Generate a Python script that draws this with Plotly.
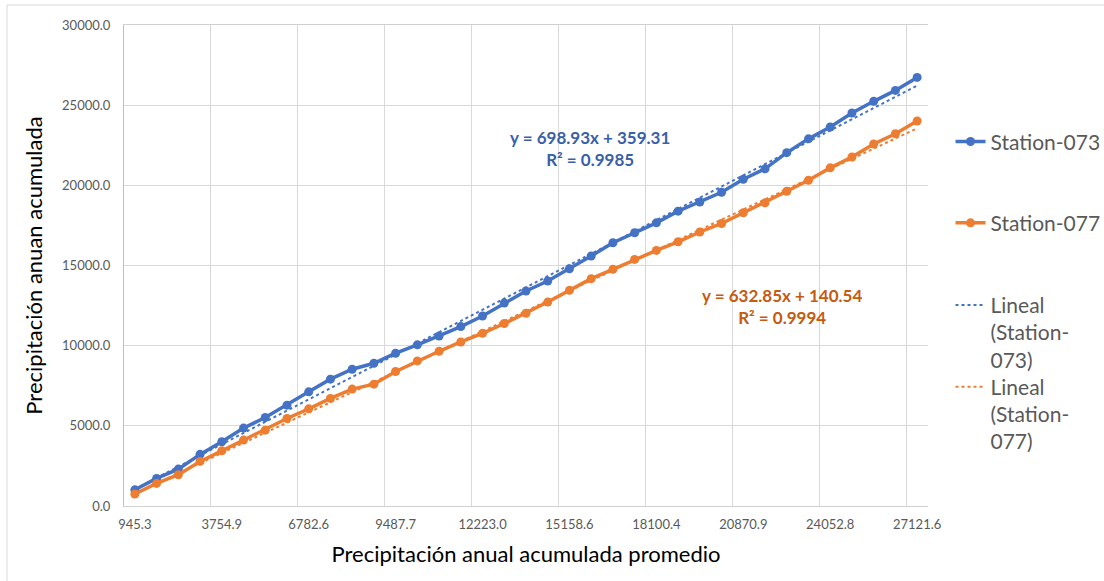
import plotly.graph_objects as go

# ---- data ----
tick_labels = ["945.3", "3754.9", "6782.6", "9487.7", "12223.0",
               "15158.6", "18100.4", "20870.9", "24052.8", "27121.6"]
label_every = 4

station_073 = [1010, 1720, 2300, 3220, 4010, 4860, 5520, 6290, 7120, 7910,
               8530, 8900, 9530, 10050, 10600, 11190, 11850, 12660, 13410, 14030,
               14800, 15590, 16420, 17040, 17660, 18390, 18960, 19570, 20380, 21030,
               22040, 22900, 23640, 24510, 25240, 25920, 26730]
station_077 = [750, 1410, 1950, 2780, 3440, 4110, 4730, 5460, 6060, 6710,
               7290, 7600, 8390, 9050, 9650, 10230, 10770, 11380, 12020, 12720,
               13450, 14180, 14760, 15380, 15940, 16480, 17090, 17620, 18290, 18910,
               19630, 20320, 21090, 21770, 22580, 23220, 24010]

trend_073 = (698.93, 359.31, 0.9985)
trend_077 = (632.85, 140.54, 0.9994)

BLUE = "#4472C4"
ORANGE = "#ED7D31"
n = len(station_073)
idx = list(range(n))

def trend(coef):
    a, b, _ = coef
    return [a * (i + 1) + b for i in idx]

fig = go.Figure()
fig.add_trace(go.Scatter(x=idx, y=station_073, mode="lines+markers", name="Station-073",
                         line=dict(color=BLUE, width=3.5), marker=dict(size=9, color=BLUE),
                         legend="legend", showlegend=True))
fig.add_trace(go.Scatter(x=idx, y=station_077, mode="lines+markers", name="Station-077",
                         line=dict(color=ORANGE, width=3.5), marker=dict(size=9, color=ORANGE),
                         legend="legend2", showlegend=True))
fig.add_trace(go.Scatter(x=idx, y=trend(trend_073), mode="lines", name="Lineal<br>(Station-<br>073)",
                         line=dict(color=BLUE, width=2, dash="dot"), legend="legend3", showlegend=True))
fig.add_trace(go.Scatter(x=idx, y=trend(trend_077), mode="lines", name="Lineal<br>(Station-<br>077)",
                         line=dict(color=ORANGE, width=2, dash="dot"), legend="legend4", showlegend=True))

FONT = "Lato"
leg_common = dict(font=dict(family=FONT, size=21, color="#595959"), bgcolor="rgba(0,0,0,0)",
                  xanchor="left", x=1.028, valign="top")

tickvals = list(range(0, n, label_every))
gridvals = [v - 0.5 for v in tickvals[1:]]

fig.update_layout(
    width=1104, height=581,
    margin=dict(l=124, r=176, t=25, b=75, autoexpand=False),
    paper_bgcolor="white", plot_bgcolor="white",
    font=dict(family=FONT),
    showlegend=True,
    legend=dict(**leg_common, y=0.757, yanchor="middle"),
    legend2=dict(**leg_common, y=0.588, yanchor="middle"),
    legend3=dict(**leg_common, y=0.460, yanchor="top"),
    legend4=dict(**leg_common, y=0.290, yanchor="top"),
    xaxis=dict(range=[-0.5, n - 0.5], tickmode="array", tickvals=tickvals, ticktext=tick_labels,
               showgrid=False, showline=True, linecolor="#d0d0d0", linewidth=1, mirror=True,
               ticks="", zeroline=False, automargin=False, ticklabelstandoff=6,
               tickfont=dict(family=FONT, size=13, color="#595959"),
               minor=dict(tickmode="array", tickvals=gridvals, showgrid=True,
                          gridcolor="#d9d9d9", gridwidth=1, ticks=""),
               title=dict(text="Precipitación anual acumulada promedio",
                          font=dict(family=FONT, size=22, color="#000000"), standoff=16)),
    yaxis=dict(range=[0, 30000], dtick=5000, tickformat=".1f",
               showgrid=True, gridcolor="#d9d9d9", gridwidth=1,
               showline=True, linecolor="#c0c0c0", linewidth=1, zeroline=False, ticks="",
               automargin=False, ticklabelstandoff=10,
               tickfont=dict(family=FONT, size=13, color="#595959"),
               title=dict(text="Precipitación anuan acumulada",
                          font=dict(family=FONT, size=22, color="#000000"), standoff=13)),
)

def eq_text(coef):
    a, b, r2 = coef
    return f"y = {a:.2f}x + {b:.2f}<br>R² = {r2:.4f}"

fig.add_annotation(xref="paper", yref="paper", x=(590 - 124) / 804, y=(506 - 148) / 481,
                   xanchor="center", yanchor="middle",
                   text=eq_text(trend_073), showarrow=False, align="center",
                   font=dict(family=FONT, size=17, color="#3A5FA8", weight="bold"))
fig.add_annotation(xref="paper", yref="paper", x=(782 - 124) / 804, y=(506 - 306) / 481,
                   xanchor="center", yanchor="middle",
                   text=eq_text(trend_077), showarrow=False, align="center",
                   font=dict(family=FONT, size=17, color="#C55A11", weight="bold"))

# outer chart border
fig.add_shape(type="rect", xref="paper", yref="paper",
              x0=(7 - 124) / 804, x1=(1110 - 124) / 804,
              y0=(506 - 590) / 481, y1=(506 - 5) / 481,
              line=dict(color="#d9d9d9", width=1), layer="below")

fig.write_html("out.html", config={"displayModeBar": False},
               post_script="document.body.style.margin='0';")
